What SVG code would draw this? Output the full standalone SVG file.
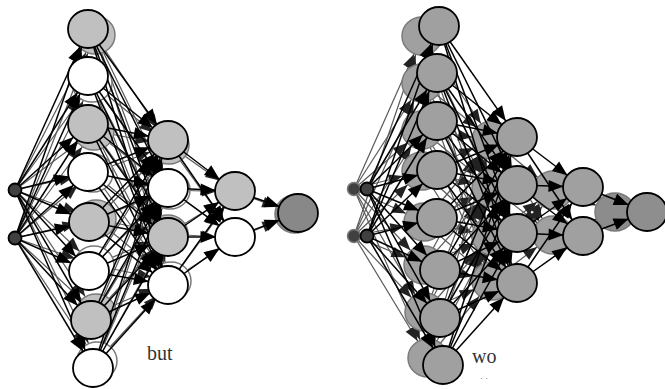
<svg xmlns="http://www.w3.org/2000/svg" width="665" height="389" viewBox="0 0 665 389">
<style>
.e{stroke:#000;stroke-width:1.5;marker-end:url(#ah)}
.g{stroke:#5a5a5a;stroke-width:1.2;marker-end:url(#gh)}
.n{stroke:#000;stroke-width:1.8}
.gn{stroke:#7a7a7a;stroke-width:1.5}
.lg{fill:#c0c0c0}
.wh{fill:#fff}
.rg{fill:#a0a0a0}
.in{fill:#404040}
.lbl{font-family:"Liberation Serif",serif;font-size:20px;fill:#333}
</style>
<defs>
<marker id="ah" markerUnits="userSpaceOnUse" markerWidth="16" markerHeight="13" refX="34.5" refY="6" orient="auto" overflow="visible"><path d="M0,0 L15,6 L0,12 z" fill="#000"/></marker>
<marker id="gh" markerUnits="userSpaceOnUse" markerWidth="16" markerHeight="13" refX="34" refY="5.5" orient="auto" overflow="visible"><path d="M0,0 L14,5.5 L0,11 z" fill="#222"/></marker>
</defs>
<rect width="665" height="389" fill="#fff"/>

<g id="ghost-connectors">
<line class="g" x1="15" y1="190" x2="95" y2="35"/><line class="g" x1="15" y1="190" x2="92" y2="83"/><line class="g" x1="15" y1="190" x2="94" y2="131"/><line class="g" x1="15" y1="190" x2="93" y2="173"/><line class="g" x1="15" y1="190" x2="96" y2="219"/><line class="g" x1="15" y1="190" x2="94" y2="265"/><line class="g" x1="15" y1="190" x2="96" y2="313"/><line class="g" x1="15" y1="190" x2="97" y2="361"/>
<line class="g" x1="15" y1="238" x2="95" y2="35"/><line class="g" x1="15" y1="238" x2="92" y2="83"/><line class="g" x1="15" y1="238" x2="94" y2="131"/><line class="g" x1="15" y1="238" x2="93" y2="173"/><line class="g" x1="15" y1="238" x2="96" y2="219"/><line class="g" x1="15" y1="238" x2="94" y2="265"/><line class="g" x1="15" y1="238" x2="96" y2="313"/><line class="g" x1="15" y1="238" x2="97" y2="361"/>
<line class="g" x1="95" y1="35" x2="169" y2="145"/><line class="g" x1="95" y1="35" x2="170" y2="190"/><line class="g" x1="95" y1="35" x2="168" y2="234"/><line class="g" x1="95" y1="35" x2="171" y2="281"/>
<line class="g" x1="92" y1="83" x2="169" y2="145"/><line class="g" x1="92" y1="83" x2="170" y2="190"/><line class="g" x1="92" y1="83" x2="168" y2="234"/><line class="g" x1="92" y1="83" x2="171" y2="281"/>
<line class="g" x1="94" y1="131" x2="169" y2="145"/><line class="g" x1="94" y1="131" x2="170" y2="190"/><line class="g" x1="94" y1="131" x2="168" y2="234"/><line class="g" x1="94" y1="131" x2="171" y2="281"/>
<line class="g" x1="93" y1="173" x2="169" y2="145"/><line class="g" x1="93" y1="173" x2="170" y2="190"/><line class="g" x1="93" y1="173" x2="168" y2="234"/><line class="g" x1="93" y1="173" x2="171" y2="281"/>
<line class="g" x1="96" y1="219" x2="169" y2="145"/><line class="g" x1="96" y1="219" x2="170" y2="190"/><line class="g" x1="96" y1="219" x2="168" y2="234"/><line class="g" x1="96" y1="219" x2="171" y2="281"/>
<line class="g" x1="94" y1="265" x2="169" y2="145"/><line class="g" x1="94" y1="265" x2="170" y2="190"/><line class="g" x1="94" y1="265" x2="168" y2="234"/><line class="g" x1="94" y1="265" x2="171" y2="281"/>
<line class="g" x1="96" y1="313" x2="169" y2="145"/><line class="g" x1="96" y1="313" x2="170" y2="190"/><line class="g" x1="96" y1="313" x2="168" y2="234"/><line class="g" x1="96" y1="313" x2="171" y2="281"/>
<line class="g" x1="97" y1="361" x2="169" y2="145"/><line class="g" x1="97" y1="361" x2="170" y2="190"/><line class="g" x1="97" y1="361" x2="168" y2="234"/><line class="g" x1="97" y1="361" x2="171" y2="281"/>
<line class="g" x1="169" y1="145" x2="236" y2="192"/><line class="g" x1="169" y1="145" x2="236" y2="238"/><line class="g" x1="170" y1="190" x2="236" y2="192"/><line class="g" x1="170" y1="190" x2="236" y2="238"/><line class="g" x1="168" y1="234" x2="236" y2="192"/><line class="g" x1="168" y1="234" x2="236" y2="238"/><line class="g" x1="171" y1="281" x2="236" y2="192"/><line class="g" x1="171" y1="281" x2="236" y2="238"/>
<line class="g" x1="236" y1="192" x2="295" y2="214"/><line class="g" x1="236" y1="238" x2="295" y2="214"/>
<line class="g" x1="354" y1="189" x2="422" y2="36"/><line class="g" x1="354" y1="189" x2="422" y2="83"/><line class="g" x1="354" y1="189" x2="422" y2="130"/><line class="g" x1="354" y1="189" x2="422" y2="171"/><line class="g" x1="354" y1="189" x2="424" y2="222"/><line class="g" x1="354" y1="189" x2="424" y2="265"/><line class="g" x1="354" y1="189" x2="425" y2="312"/><line class="g" x1="354" y1="189" x2="428" y2="358"/>
<line class="g" x1="354" y1="236" x2="422" y2="36"/><line class="g" x1="354" y1="236" x2="422" y2="83"/><line class="g" x1="354" y1="236" x2="422" y2="130"/><line class="g" x1="354" y1="236" x2="422" y2="171"/><line class="g" x1="354" y1="236" x2="424" y2="222"/><line class="g" x1="354" y1="236" x2="424" y2="265"/><line class="g" x1="354" y1="236" x2="425" y2="312"/><line class="g" x1="354" y1="236" x2="428" y2="358"/>
<line class="g" x1="422" y1="36" x2="492" y2="140"/><line class="g" x1="422" y1="36" x2="492" y2="188"/><line class="g" x1="422" y1="36" x2="492" y2="236"/><line class="g" x1="422" y1="36" x2="492" y2="281"/>
<line class="g" x1="422" y1="83" x2="492" y2="140"/><line class="g" x1="422" y1="83" x2="492" y2="188"/><line class="g" x1="422" y1="83" x2="492" y2="236"/><line class="g" x1="422" y1="83" x2="492" y2="281"/>
<line class="g" x1="422" y1="130" x2="492" y2="140"/><line class="g" x1="422" y1="130" x2="492" y2="188"/><line class="g" x1="422" y1="130" x2="492" y2="236"/><line class="g" x1="422" y1="130" x2="492" y2="281"/>
<line class="g" x1="422" y1="171" x2="492" y2="140"/><line class="g" x1="422" y1="171" x2="492" y2="188"/><line class="g" x1="422" y1="171" x2="492" y2="236"/><line class="g" x1="422" y1="171" x2="492" y2="281"/>
<line class="g" x1="424" y1="222" x2="492" y2="140"/><line class="g" x1="424" y1="222" x2="492" y2="188"/><line class="g" x1="424" y1="222" x2="492" y2="236"/><line class="g" x1="424" y1="222" x2="492" y2="281"/>
<line class="g" x1="424" y1="265" x2="492" y2="140"/><line class="g" x1="424" y1="265" x2="492" y2="188"/><line class="g" x1="424" y1="265" x2="492" y2="236"/><line class="g" x1="424" y1="265" x2="492" y2="281"/>
<line class="g" x1="425" y1="312" x2="492" y2="140"/><line class="g" x1="425" y1="312" x2="492" y2="188"/><line class="g" x1="425" y1="312" x2="492" y2="236"/><line class="g" x1="425" y1="312" x2="492" y2="281"/>
<line class="g" x1="428" y1="358" x2="492" y2="140"/><line class="g" x1="428" y1="358" x2="492" y2="188"/><line class="g" x1="428" y1="358" x2="492" y2="236"/><line class="g" x1="428" y1="358" x2="492" y2="281"/>
<line class="g" x1="492" y1="140" x2="553" y2="190"/><line class="g" x1="492" y1="140" x2="553" y2="235"/><line class="g" x1="492" y1="188" x2="553" y2="190"/><line class="g" x1="492" y1="188" x2="553" y2="235"/><line class="g" x1="492" y1="236" x2="553" y2="190"/><line class="g" x1="492" y1="236" x2="553" y2="235"/><line class="g" x1="492" y1="281" x2="553" y2="190"/><line class="g" x1="492" y1="281" x2="553" y2="235"/>
<line class="g" x1="553" y1="190" x2="615" y2="212"/><line class="g" x1="553" y1="235" x2="615" y2="212"/>
</g>

<g id="ghost-nodes">
<g id="gl-b1"><ellipse class="gn lg" cx="95" cy="35" rx="20" ry="19"/></g>
<g id="gl-b2"><ellipse class="gn wh" cx="92" cy="83" rx="20" ry="19"/></g>
<g id="gl-b3"><ellipse class="gn lg" cx="94" cy="131" rx="20" ry="19"/></g>
<g id="gl-b4"><ellipse class="gn wh" cx="93" cy="173" rx="20" ry="19"/></g>
<g id="gl-b5"><ellipse class="gn lg" cx="96" cy="219" rx="20" ry="19"/></g>
<g id="gl-b6"><ellipse class="gn wh" cx="94" cy="265" rx="20" ry="19"/></g>
<g id="gl-b7"><ellipse class="gn lg" cx="96" cy="313" rx="20" ry="19"/></g>
<g id="gl-b8"><ellipse class="gn wh" cx="97" cy="361" rx="20" ry="19"/></g>
<g id="gl-c1"><ellipse class="gn lg" cx="169" cy="145" rx="20" ry="19"/></g>
<g id="gl-c2"><ellipse class="gn wh" cx="170" cy="190" rx="20" ry="19"/></g>
<g id="gl-c3"><ellipse class="gn lg" cx="168" cy="234" rx="20" ry="19"/></g>
<g id="gl-c4"><ellipse class="gn wh" cx="171" cy="281" rx="20" ry="19"/></g>
<g id="gl-e"><ellipse class="gn" fill="#888" cx="295" cy="214" rx="20" ry="19"/></g>
<g id="gr-a1"><circle class="gn in" stroke="#333" cx="354" cy="189" r="6.5"/></g>
<g id="gr-a2"><circle class="gn in" stroke="#333" cx="354" cy="236" r="6.5"/></g>
<g id="gr-b1"><ellipse class="gn rg" cx="422" cy="36" rx="20" ry="19"/></g>
<g id="gr-b2"><ellipse class="gn rg" cx="422" cy="83" rx="20" ry="19"/></g>
<g id="gr-b3"><ellipse class="gn rg" cx="422" cy="130" rx="20" ry="19"/></g>
<g id="gr-b4"><ellipse class="gn rg" cx="422" cy="171" rx="20" ry="19"/></g>
<g id="gr-b5"><ellipse class="gn rg" cx="424" cy="222" rx="20" ry="19"/></g>
<g id="gr-b6"><ellipse class="gn rg" cx="424" cy="265" rx="20" ry="19"/></g>
<g id="gr-b7"><ellipse class="gn rg" cx="425" cy="312" rx="20" ry="19"/></g>
<g id="gr-b8"><ellipse class="gn rg" cx="428" cy="358" rx="20" ry="19"/></g>
<g id="gr-c1"><ellipse class="gn rg" cx="492" cy="140" rx="20" ry="19"/></g>
<g id="gr-c2"><ellipse class="gn rg" cx="492" cy="188" rx="20" ry="19"/></g>
<g id="gr-c3"><ellipse class="gn rg" cx="492" cy="236" rx="20" ry="19"/></g>
<g id="gr-c4"><ellipse class="gn rg" cx="492" cy="281" rx="20" ry="19"/></g>
<g id="gr-d1"><ellipse class="gn rg" cx="553" cy="190" rx="20" ry="19"/></g>
<g id="gr-d2"><ellipse class="gn rg" cx="553" cy="235" rx="20" ry="19"/></g>
<g id="gr-e"><ellipse class="gn" fill="#8c8c8c" cx="615" cy="212" rx="20" ry="19"/></g>
</g>

<g id="connectors">
<line class="e" x1="15" y1="190" x2="88" y2="29"/><line class="e" x1="15" y1="190" x2="88" y2="76"/><line class="e" x1="15" y1="190" x2="88" y2="124"/><line class="e" x1="15" y1="190" x2="88" y2="172"/><line class="e" x1="15" y1="190" x2="89" y2="222"/><line class="e" x1="15" y1="190" x2="89" y2="271"/><line class="e" x1="15" y1="190" x2="91" y2="320"/><line class="e" x1="15" y1="190" x2="93" y2="368"/>
<line class="e" x1="15" y1="238" x2="88" y2="29"/><line class="e" x1="15" y1="238" x2="88" y2="76"/><line class="e" x1="15" y1="238" x2="88" y2="124"/><line class="e" x1="15" y1="238" x2="88" y2="172"/><line class="e" x1="15" y1="238" x2="89" y2="222"/><line class="e" x1="15" y1="238" x2="89" y2="271"/><line class="e" x1="15" y1="238" x2="91" y2="320"/><line class="e" x1="15" y1="238" x2="93" y2="368"/>
<line class="e" x1="88" y1="29" x2="168" y2="140"/><line class="e" x1="88" y1="29" x2="168" y2="188"/><line class="e" x1="88" y1="29" x2="168" y2="237"/><line class="e" x1="88" y1="29" x2="168" y2="285"/>
<line class="e" x1="88" y1="76" x2="168" y2="140"/><line class="e" x1="88" y1="76" x2="168" y2="188"/><line class="e" x1="88" y1="76" x2="168" y2="237"/><line class="e" x1="88" y1="76" x2="168" y2="285"/>
<line class="e" x1="88" y1="124" x2="168" y2="140"/><line class="e" x1="88" y1="124" x2="168" y2="188"/><line class="e" x1="88" y1="124" x2="168" y2="237"/><line class="e" x1="88" y1="124" x2="168" y2="285"/>
<line class="e" x1="88" y1="172" x2="168" y2="140"/><line class="e" x1="88" y1="172" x2="168" y2="188"/><line class="e" x1="88" y1="172" x2="168" y2="237"/><line class="e" x1="88" y1="172" x2="168" y2="285"/>
<line class="e" x1="89" y1="222" x2="168" y2="140"/><line class="e" x1="89" y1="222" x2="168" y2="188"/><line class="e" x1="89" y1="222" x2="168" y2="237"/><line class="e" x1="89" y1="222" x2="168" y2="285"/>
<line class="e" x1="89" y1="271" x2="168" y2="140"/><line class="e" x1="89" y1="271" x2="168" y2="188"/><line class="e" x1="89" y1="271" x2="168" y2="237"/><line class="e" x1="89" y1="271" x2="168" y2="285"/>
<line class="e" x1="91" y1="320" x2="168" y2="140"/><line class="e" x1="91" y1="320" x2="168" y2="188"/><line class="e" x1="91" y1="320" x2="168" y2="237"/><line class="e" x1="91" y1="320" x2="168" y2="285"/>
<line class="e" x1="93" y1="368" x2="168" y2="140"/><line class="e" x1="93" y1="368" x2="168" y2="188"/><line class="e" x1="93" y1="368" x2="168" y2="237"/><line class="e" x1="93" y1="368" x2="168" y2="285"/>
<line class="e" x1="168" y1="140" x2="235" y2="191"/><line class="e" x1="168" y1="140" x2="235" y2="237"/><line class="e" x1="168" y1="188" x2="235" y2="191"/><line class="e" x1="168" y1="188" x2="235" y2="237"/><line class="e" x1="168" y1="237" x2="235" y2="191"/><line class="e" x1="168" y1="237" x2="235" y2="237"/><line class="e" x1="168" y1="285" x2="235" y2="191"/><line class="e" x1="168" y1="285" x2="235" y2="237"/>
<line class="e" x1="235" y1="191" x2="298" y2="213"/><line class="e" x1="235" y1="237" x2="298" y2="213"/>
<line class="e" x1="367" y1="189" x2="439" y2="26"/><line class="e" x1="367" y1="189" x2="437" y2="73"/><line class="e" x1="367" y1="189" x2="437" y2="121"/><line class="e" x1="367" y1="189" x2="437" y2="170"/><line class="e" x1="367" y1="189" x2="437" y2="218"/><line class="e" x1="367" y1="189" x2="440" y2="270"/><line class="e" x1="367" y1="189" x2="440" y2="318"/><line class="e" x1="367" y1="189" x2="443" y2="365"/>
<line class="e" x1="367" y1="236" x2="439" y2="26"/><line class="e" x1="367" y1="236" x2="437" y2="73"/><line class="e" x1="367" y1="236" x2="437" y2="121"/><line class="e" x1="367" y1="236" x2="437" y2="170"/><line class="e" x1="367" y1="236" x2="437" y2="218"/><line class="e" x1="367" y1="236" x2="440" y2="270"/><line class="e" x1="367" y1="236" x2="440" y2="318"/><line class="e" x1="367" y1="236" x2="443" y2="365"/>
<line class="e" x1="439" y1="26" x2="517" y2="137"/><line class="e" x1="439" y1="26" x2="517" y2="185"/><line class="e" x1="439" y1="26" x2="517" y2="233"/><line class="e" x1="439" y1="26" x2="517" y2="283"/>
<line class="e" x1="437" y1="73" x2="517" y2="137"/><line class="e" x1="437" y1="73" x2="517" y2="185"/><line class="e" x1="437" y1="73" x2="517" y2="233"/><line class="e" x1="437" y1="73" x2="517" y2="283"/>
<line class="e" x1="437" y1="121" x2="517" y2="137"/><line class="e" x1="437" y1="121" x2="517" y2="185"/><line class="e" x1="437" y1="121" x2="517" y2="233"/><line class="e" x1="437" y1="121" x2="517" y2="283"/>
<line class="e" x1="437" y1="170" x2="517" y2="137"/><line class="e" x1="437" y1="170" x2="517" y2="185"/><line class="e" x1="437" y1="170" x2="517" y2="233"/><line class="e" x1="437" y1="170" x2="517" y2="283"/>
<line class="e" x1="437" y1="218" x2="517" y2="137"/><line class="e" x1="437" y1="218" x2="517" y2="185"/><line class="e" x1="437" y1="218" x2="517" y2="233"/><line class="e" x1="437" y1="218" x2="517" y2="283"/>
<line class="e" x1="440" y1="270" x2="517" y2="137"/><line class="e" x1="440" y1="270" x2="517" y2="185"/><line class="e" x1="440" y1="270" x2="517" y2="233"/><line class="e" x1="440" y1="270" x2="517" y2="283"/>
<line class="e" x1="440" y1="318" x2="517" y2="137"/><line class="e" x1="440" y1="318" x2="517" y2="185"/><line class="e" x1="440" y1="318" x2="517" y2="233"/><line class="e" x1="440" y1="318" x2="517" y2="283"/>
<line class="e" x1="443" y1="365" x2="517" y2="137"/><line class="e" x1="443" y1="365" x2="517" y2="185"/><line class="e" x1="443" y1="365" x2="517" y2="233"/><line class="e" x1="443" y1="365" x2="517" y2="283"/>
<line class="e" x1="517" y1="137" x2="583" y2="187"/><line class="e" x1="517" y1="137" x2="583" y2="236"/><line class="e" x1="517" y1="185" x2="583" y2="187"/><line class="e" x1="517" y1="185" x2="583" y2="236"/><line class="e" x1="517" y1="233" x2="583" y2="187"/><line class="e" x1="517" y1="233" x2="583" y2="236"/><line class="e" x1="517" y1="283" x2="583" y2="187"/><line class="e" x1="517" y1="283" x2="583" y2="236"/>
<line class="e" x1="583" y1="187" x2="647" y2="212"/><line class="e" x1="583" y1="236" x2="647" y2="212"/>
</g>

<g id="nodes">
<g id="l-a1"><circle class="n in" cx="15" cy="190" r="6.5"/></g>
<g id="l-a2"><circle class="n in" cx="15" cy="238" r="6.5"/></g>
<g id="l-b1"><ellipse class="n lg" cx="88" cy="29" rx="20" ry="19"/></g>
<g id="l-b2"><ellipse class="n wh" cx="88" cy="76" rx="20" ry="19"/></g>
<g id="l-b3"><ellipse class="n lg" cx="88" cy="124" rx="20" ry="19"/></g>
<g id="l-b4"><ellipse class="n wh" cx="88" cy="172" rx="20" ry="19"/></g>
<g id="l-b5"><ellipse class="n lg" cx="89" cy="222" rx="20" ry="19"/></g>
<g id="l-b6"><ellipse class="n wh" cx="89" cy="271" rx="20" ry="19"/></g>
<g id="l-b7"><ellipse class="n lg" cx="91" cy="320" rx="20" ry="19"/></g>
<g id="l-b8"><ellipse class="n wh" cx="93" cy="368" rx="20" ry="19"/></g>
<g id="l-c1"><ellipse class="n lg" cx="168" cy="140" rx="20" ry="19"/></g>
<g id="l-c2"><ellipse class="n wh" cx="168" cy="188" rx="20" ry="19"/></g>
<g id="l-c3"><ellipse class="n lg" cx="168" cy="237" rx="20" ry="19"/></g>
<g id="l-c4"><ellipse class="n wh" cx="168" cy="285" rx="20" ry="19"/></g>
<g id="l-d1"><ellipse class="n lg" cx="235" cy="191" rx="20" ry="19"/></g>
<g id="l-d2"><ellipse class="n wh" cx="235" cy="237" rx="20" ry="19"/></g>
<g id="l-e"><ellipse class="n" fill="#888" cx="298" cy="213" rx="20" ry="19"/></g>
<g id="r-a1"><circle class="n in" cx="367" cy="189" r="6.5"/></g>
<g id="r-a2"><circle class="n in" cx="367" cy="236" r="6.5"/></g>
<g id="r-b1"><ellipse class="n rg" cx="439" cy="26" rx="20" ry="19"/></g>
<g id="r-b2"><ellipse class="n rg" cx="437" cy="73" rx="20" ry="19"/></g>
<g id="r-b3"><ellipse class="n rg" cx="437" cy="121" rx="20" ry="19"/></g>
<g id="r-b4"><ellipse class="n rg" cx="437" cy="170" rx="20" ry="19"/></g>
<g id="r-b5"><ellipse class="n rg" cx="437" cy="218" rx="20" ry="19"/></g>
<g id="r-b6"><ellipse class="n rg" cx="440" cy="270" rx="20" ry="19"/></g>
<g id="r-b7"><ellipse class="n rg" cx="440" cy="318" rx="20" ry="19"/></g>
<g id="r-b8"><ellipse class="n rg" cx="443" cy="365" rx="20" ry="19"/></g>
<g id="r-c1"><ellipse class="n rg" cx="517" cy="137" rx="20" ry="19"/></g>
<g id="r-c2"><ellipse class="n rg" cx="517" cy="185" rx="20" ry="19"/></g>
<g id="r-c3"><ellipse class="n rg" cx="517" cy="233" rx="20" ry="19"/></g>
<g id="r-c4"><ellipse class="n rg" cx="517" cy="283" rx="20" ry="19"/></g>
<g id="r-d1"><ellipse class="n rg" cx="583" cy="187" rx="20" ry="19"/></g>
<g id="r-d2"><ellipse class="n rg" cx="583" cy="236" rx="20" ry="19"/></g>
<g id="r-e"><ellipse class="n" fill="#8e8e8e" cx="647" cy="212" rx="20" ry="19"/></g>
</g>

<g id="labels">
<text class="lbl" x="147" y="360">but</text>
<text class="lbl" x="472" y="363">wo</text>
<text x="480" y="381" font-family="Liberation Serif, serif" font-size="9" fill="#555">· ·</text>
</g>
</svg>
